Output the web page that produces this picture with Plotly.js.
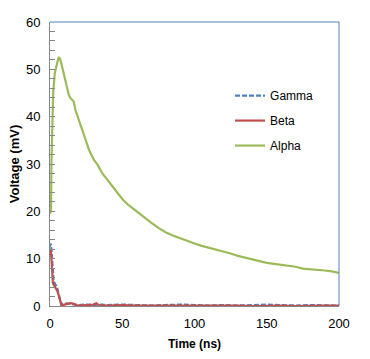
<!DOCTYPE html>
<html><head><meta charset="utf-8">
<script src="https://cdn.plot.ly/plotly-3.0.1.min.js"></script>
<style>html,body{margin:0;padding:0;background:#fff}#chart{width:370px;height:359px}</style>
</head><body><div id="chart"></div>
<script>
const alphaTime = [0,0.4,0.7,1,1.5,2.2,3.3,4.5,5.5,6.2,7,8,9.5,11,12,13,14,15,16.4,17.5,18.7,20,22,24.5,27,30.3,33,36,39,43,46,50,54,58,62,66,70,75,80,85,90,95,100,105,110,115,120,125,130,135,140,145,150,155,160,165,170,175,180,185,190,195,200];
const alphaVolt = [19.5,20,20.3,30,40.4,45,49.2,51,52,52.6,52.2,51,48.9,47.2,46,44.6,44,43.6,43.2,41.5,40.4,39.2,37.2,34.8,33,30.9,29.8,28.1,26.9,25.2,24.2,22.6,21.4,20.4,19.5,18.6,17.6,16.5,15.6,14.9,14.3,13.7,13.2,12.7,12.3,11.9,11.6,11.1,10.6,10.2,9.9,9.5,9.1,8.9,8.7,8.6,8.3,7.9,7.8,7.7,7.5,7.3,7.0];

const gammaTime = [0,0.5,1,1.5,2,2.5,3,4,5,6,7,8,10,12,15,20,25,30,35,40,50,60,70,80,90,100,110,120,130,140,150,160,170,180,190,200];
const gammaVolt = [12.5,13.2,12,9,6.5,5.2,5,4.5,3.8,2.5,1.0,0.3,0.6,0.5,0.3,0.2,0.3,0.2,0.3,0.2,0.3,0.2,0.1,0.2,0.3,0.2,0.1,0.2,0.1,0.2,0.3,0.2,0.1,0.2,0.2,0.1];

const betaTime = [0,0.5,1,1.5,2,3,4,5,6,7,8,10,12,14,16,18,20,25,30,32,34,40,50,60,70,80,90,100,110,120,130,140,150,160,170,180,190,200];
const betaVolt = [11.5,12,10,7,4.8,4.3,3.8,3.2,2.3,1,0,0.3,0.5,0.6,0.5,0.2,0.1,0.2,0.3,0.6,0.2,0.1,0.2,0.1,0.1,0.1,0.1,0.2,0.1,0.1,0.1,0,0.1,0.1,0,0.1,0.1,0.1];

const seriesNames = ['Gamma','Beta','Alpha'];

const traces = [
  {x: gammaTime, y: gammaVolt, name: seriesNames[0], mode:'lines', legendgroup:'g',
   line:{color:'#4F81BD', width:2.2, dash:'5px,2px'}},
  {x: betaTime, y: betaVolt, name: seriesNames[1], mode:'lines', legendgroup:'b',
   line:{color:'#C0504D', width:2.2}},
  {x: alphaTime, y: alphaVolt, name: seriesNames[2], mode:'lines', legendgroup:'a',
   line:{color:'#9BBB59', width:2.2}}
];

const layout = {
  width:370, height:359,
  margin:{l:50, r:31, t:22, b:53},
  paper_bgcolor:'#fff', plot_bgcolor:'#fff',
  font:{family:'"Liberation Sans", Arial, sans-serif', size:13, color:'#000'},
  showlegend:true,
  legend:{x:0.623, y:0.792, xanchor:'left', yanchor:'top', bgcolor:'rgba(0,0,0,0)',
          font:{size:12}, traceorder:'grouped', tracegroupgap:6, itemwidth:30},
  xaxis:{range:[0,200], dtick:50, showgrid:false, zeroline:false, showline:true,
         linecolor:'#868686', linewidth:1, ticks:'', ticklabelstandoff:5,
         title:{text:'<b>Time (ns)</b>', font:{size:12}, standoff:10}},
  yaxis:{range:[0,60], dtick:10, showgrid:false, zeroline:false, showline:true,
         linecolor:'#868686', linewidth:1, ticks:'inside', ticklen:5, tickcolor:'#868686',
         ticklabelstandoff:6,
         minor:{dtick:2, ticks:'inside', ticklen:5, tickcolor:'#868686'},
         title:{text:'<b>Voltage (mV)</b>', font:{size:13}, standoff:3}},
  shapes:[
    {type:'line', xref:'paper', yref:'paper', x0:0, x1:1, y0:1, y1:1, line:{color:'#4F81BD', width:1}},
    {type:'line', xref:'paper', yref:'paper', x0:1, x1:1, y0:0, y1:1, line:{color:'#4F81BD', width:1}}
  ]
};

Plotly.newPlot('chart', traces, layout, {displayModeBar:false, staticPlot:true});
</script></body></html>
